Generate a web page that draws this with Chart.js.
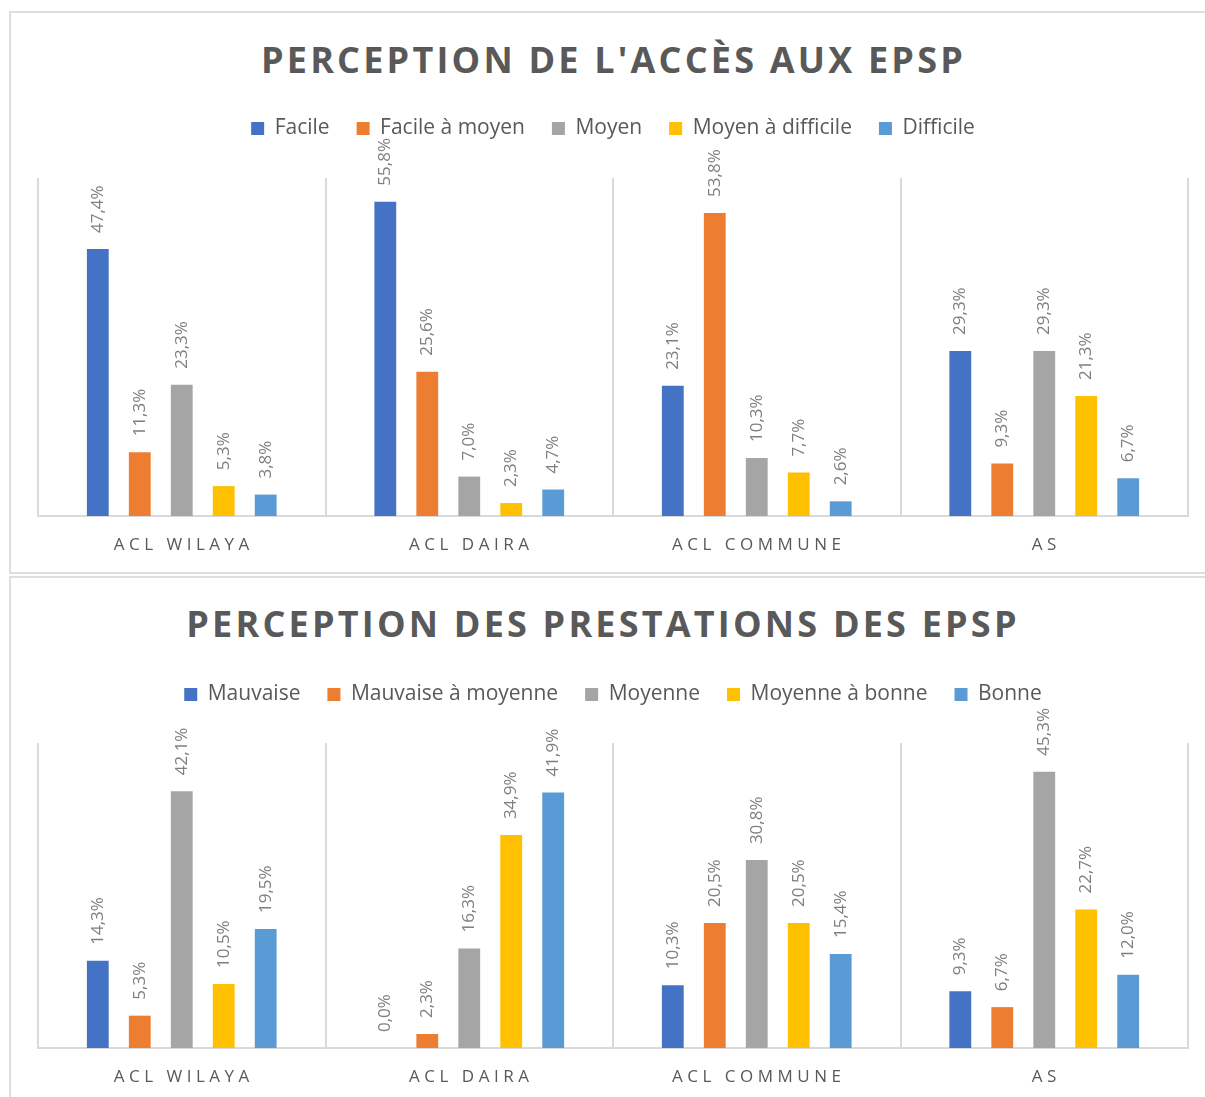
<!DOCTYPE html>
<html><head><meta charset="utf-8">
<script src="https://cdn.jsdelivr.net/npm/chart.js@4.4.0/dist/chart.umd.min.js"></script>
<style>
html,body{margin:0;padding:0;background:#fff;width:1205px;height:1097px;overflow:hidden;position:relative;font-family:"Open Sans",sans-serif;}
.box{position:absolute;left:9px;width:1220px;border:2px solid #dedede;box-sizing:border-box;}
#box1{top:11px;height:563px;}
#box2{top:576px;height:600px;}
.title{position:absolute;left:0;font-weight:700;font-size:36px;letter-spacing:3.2px;color:#595959;white-space:nowrap;text-align:center;line-height:1;}
canvas{position:absolute;}
</style></head><body>
<div class="box" id="box1"></div>
<div class="box" id="box2"></div>
<div class="title" id="t1" style="top:42px;width:1227px;">PERCEPTION DE L'ACCÈS AUX EPSP</div>
<div class="title" id="t2" style="top:606px;width:1206px;">PERCEPTION DES PRESTATIONS DES EPSP</div>
<canvas id="c1" width="1195" height="559" style="left:10px;top:13px;"></canvas>
<canvas id="c2" width="1195" height="520" style="left:10px;top:578px;"></canvas>
<script>
// ---- data ----
const categories = ['ACL WILAYA', 'ACL DAIRA', 'ACL COMMUNE', 'AS'];

const accesSeries = ['Facile', 'Facile à moyen', 'Moyen', 'Moyen à difficile', 'Difficile'];
const accesFacile = [47.4, 55.8, 23.1, 29.3];
const accesFacileMoyen = [11.3, 25.6, 53.8, 9.3];
const accesMoyen = [23.3, 7.0, 10.3, 29.3];
const accesMoyenDifficile = [5.3, 2.3, 7.7, 21.3];
const accesDifficile = [3.8, 4.7, 2.6, 6.7];

const prestSeries = ['Mauvaise', 'Mauvaise à moyenne', 'Moyenne', 'Moyenne à bonne', 'Bonne'];
const prestMauvaise = [14.3, 0.0, 10.3, 9.3];
const prestMauvaiseMoyenne = [5.3, 2.3, 20.5, 6.7];
const prestMoyenne = [42.1, 16.3, 30.8, 45.3];
const prestMoyenneBonne = [10.5, 34.9, 20.5, 22.7];
const prestBonne = [19.5, 41.9, 15.4, 12.0];

const seriesColors = ['#4472C4', '#ED7D31', '#A5A5A5', '#FFC000', '#5B9BD5'];

function fmt(v) { return v.toFixed(1).replace('.', ',') + '%'; }

const valueLabels = {
  id: 'valueLabels',
  afterDatasetsDraw(chart) {
    const ctx = chart.ctx;
    ctx.save();
    ctx.font = '17px "Open Sans"';
    ctx.fillStyle = '#7f7f7f';
    ctx.textAlign = 'left';
    ctx.textBaseline = 'middle';
    chart.data.datasets.forEach((ds, i) => {
      chart.getDatasetMeta(i).data.forEach((bar, j) => {
        ctx.save();
        ctx.translate(bar.x, bar.y - 16);
        ctx.rotate(-Math.PI / 2);
        ctx.fillText(fmt(ds.data[j]), 0, 0);
        ctx.restore();
      });
    });
    ctx.restore();
  }
};

const catLabels = {
  id: 'catLabels',
  afterDraw(chart) {
    const ctx = chart.ctx;
    const xs = chart.scales.x;
    ctx.save();
    ctx.font = '17px "Open Sans"';
    ctx.fillStyle = '#595959';
    ctx.textAlign = 'center';
    ctx.textBaseline = 'middle';
    ctx.letterSpacing = '4.5px';
    chart.data.labels.forEach((lab, i) => {
      ctx.fillText(lab, xs.getPixelForValue(i) + 2, chart.chartArea.bottom + 29);
    });
    ctx.restore();
  }
};

const legendGap = {
  id: 'legendGap',
  beforeLayout(chart, args, opts) {
    const lg = chart.legend;
    if (lg && !lg._patched) {
      const f = lg.fit;
      lg.fit = function () { f.call(this); this.height = opts.height; };
      lg._patched = true;
    }
  }
};

function makeChart(id, names, series, yMax, padTop, legendH, padBottom) {
  const datasets = names.map((n, i) => ({
    label: n,
    data: series[i],
    backgroundColor: seriesColors[i],
    borderWidth: 0,
    categoryPercentage: 0.73,
    barPercentage: 0.52
  }));
  return new Chart(document.getElementById(id), {
    type: 'bar',
    data: { labels: categories, datasets },
    options: {
      responsive: false,
      animation: false,
      layout: { padding: { left: 28, right: 17, top: padTop, bottom: padBottom } },
      scales: {
        x: {
          grid: { display: true, offset: true, color: '#d9d9d9', lineWidth: 2, drawTicks: false },
          border: { display: true, color: '#d9d9d9', width: 2 },
          ticks: { display: false },
          afterFit: (s) => { s.height = 0; }
        },
        y: { display: false, min: 0, max: yMax }
      },
      plugins: {
        legend: {
          position: 'top',
          labels: {
            boxWidth: 13, boxHeight: 13, padding: 27,
            color: '#595959',
            font: { family: '"Open Sans"', size: 21 }
          }
        },
        tooltip: { enabled: false },
        legendGap: { height: legendH }
      }
    },
    plugins: [legendGap, valueLabels, catLabels]
  });
}

makeChart('c1', accesSeries,
  [accesFacile, accesFacileMoyen, accesMoyen, accesMoyenDifficile, accesDifficile],
  60, 78, 87, 56);
makeChart('c2', prestSeries,
  [prestMauvaise, prestMauvaiseMoyenne, prestMoyenne, prestMoyenneBonne, prestBonne],
  50, 79, 86, 50);
</script>
</body></html>
